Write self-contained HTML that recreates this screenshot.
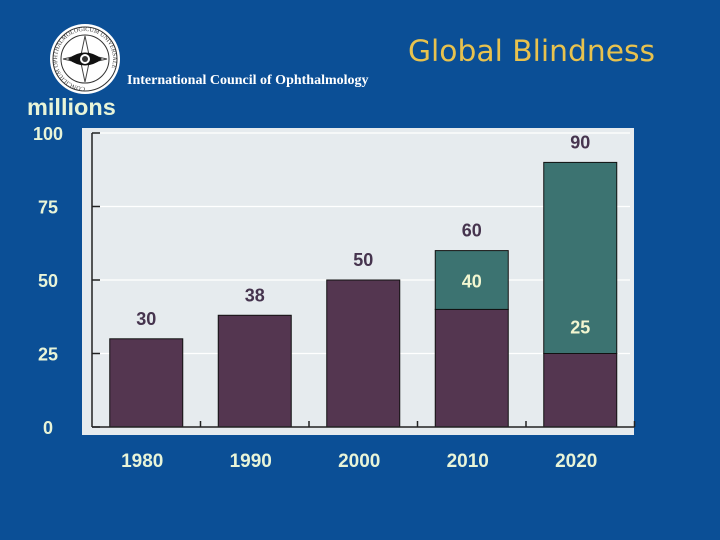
<!DOCTYPE html>
<html><head><meta charset="utf-8"><style>
html,body{margin:0;padding:0;background:#0b4f96;}
svg{display:block;}
</style></head><body>
<svg id="chart" width="720" height="540" viewBox="0 0 720 540" xmlns="http://www.w3.org/2000/svg" font-family="Liberation Sans, Arial, sans-serif">
<rect x="0" y="0" width="720" height="540" fill="#0b4f96"/>
<g>
<circle cx="85" cy="59" r="35" fill="#ffffff"/>
<circle cx="85" cy="59" r="32" fill="none" stroke="#333" stroke-width="1"/>
<circle cx="85" cy="59" r="24" fill="none" stroke="#333" stroke-width="1"/>
<path d="M85 36 L89 55 L107 59 L89 63 L85 82 L81 63 L63 59 L81 55 Z" fill="none" stroke="#444" stroke-width="1"/>
<path d="M68 59 Q85 46 102 59 Q85 72 68 59 Z" fill="#111"/>
<circle cx="85" cy="59" r="5" fill="#fff"/>
<circle cx="85" cy="59" r="3" fill="#333"/>
<path id="logoArc" d="M85 87 A28 28 0 1 1 85.1 87" fill="none"/>
<text font-family="Liberation Serif, serif" font-size="6" fill="#333"><textPath href="#logoArc">CONCILIUM OPHTHALMOLOGICUM UNIVERSALE</textPath></text>
</g>
<text x="127" y="84" font-family="Liberation Serif, serif" font-weight="bold" font-size="14" fill="#ffffff">International Council of Ophthalmology</text>
<text x="408" y="61" font-family="DejaVu Sans, sans-serif" font-size="29" fill="#e8c24e" textLength="247" lengthAdjust="spacingAndGlyphs">Global Blindness</text>
<text x="27" y="115" font-size="23.5" font-weight="bold" fill="#e8f4d8">millions</text>
<rect x="82" y="128" width="552" height="307" fill="#e6ebee"/>
<g id="grid"></g>
<g id="bars"></g>
<g id="axes"></g>
<g id="labels"></g>
</svg>
<script>
const categories = ['1980','1990','2000','2010','2020'];
const baseValues = [30, 38, 50, 40, 25];
const topValues = [0, 0, 0, 20, 65];
const innerLabels = ['', '', '', '40', '25'];
const yTicks = [0, 25, 50, 75, 100];
const yTickLabels = ['0','25','50','75','100'];

const NS = 'http://www.w3.org/2000/svg';
const x0 = 92, band = 108.5, barW = 73;
const yZero = 427, yScaleK = 2.94;
function xScale(i){ return x0 + band*i + band/2; }
function yScale(v){ return yZero - v*yScaleK; }
function mk(tag, attrs, parent){
  const e = document.createElementNS(NS, tag);
  for (const k in attrs) e.setAttribute(k, attrs[k]);
  parent.appendChild(e); return e;
}
const grid = document.getElementById('grid');
const bars = document.getElementById('bars');
const axes = document.getElementById('axes');
const labels = document.getElementById('labels');

yTicks.forEach((t, i) => {
  const y = yScale(t);
  if (t > 0) {
    const g = mk('line', {x1: x0, x2: 630, y1: y, y2: y, stroke: '#ffffff', 'stroke-width': 1.2}, grid);
    
    
  }
  const tk = mk('line', {x1: x0, x2: x0 + 8, y1: y, y2: y, stroke: '#222', 'stroke-width': 1.5}, axes);
  
  
  const tl = mk('text', {x: 48, y: y + 7, 'text-anchor': 'middle', 'font-size': 18, 'font-weight': 'bold', fill: '#e8f4d8'}, labels);
  tl.textContent = yTickLabels[i];
  
  
});

categories.forEach((c, i) => {
  const cx = xScale(i);
  const b = baseValues[i], tp = topValues[i];
  const r1 = mk('rect', {x: cx - barW/2, y: yScale(b), width: barW, height: yScale(0) - yScale(b), fill: '#543650', stroke: '#111', 'stroke-width': 1}, bars);
  
  
  if (tp > 0) {
    const r2 = mk('rect', {x: cx - barW/2, y: yScale(b + tp), width: barW, height: yScale(b) - yScale(b + tp), fill: '#3c7371', stroke: '#111', 'stroke-width': 1}, bars);
    
    
  }
  const total = b + tp;
  const vl = mk('text', {x: cx, y: yScale(total) - 14, 'text-anchor': 'middle', 'font-size': 18, 'font-weight': 'bold', fill: '#46344e'}, labels);
  vl.textContent = String(total);
  
  
  if (innerLabels[i]) {
    const il = mk('text', {x: cx, y: (i === 3 ? yScale(b + tp) + 37 : yScale(b) - 20), 'text-anchor': 'middle', 'font-size': 18, 'font-weight': 'bold', fill: '#f2f6d0'}, labels);
    il.textContent = innerLabels[i];
    
    
  }
  const xl = mk('text', {x: cx - 4, y: 467, 'text-anchor': 'middle', 'font-size': 19, 'font-weight': 'bold', fill: '#e8f4d8'}, labels);
  xl.textContent = c;
  
  
  const xt = mk('line', {x1: x0 + band*(i+1), x2: x0 + band*(i+1), y1: yZero, y2: yZero - 6, stroke: '#222', 'stroke-width': 1.5}, axes);
  
  
});
const ya = mk('line', {x1: x0, x2: x0, y1: yScale(100), y2: yZero, stroke: '#222', 'stroke-width': 1.5}, axes);


const xa = mk('line', {x1: x0, x2: x0 + band*5, y1: yZero, y2: yZero, stroke: '#222', 'stroke-width': 1.5}, axes);


</script>
</body></html>
